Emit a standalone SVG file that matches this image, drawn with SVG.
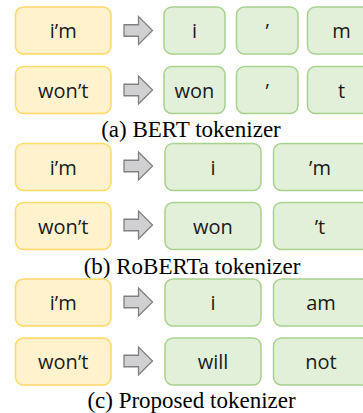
<svg xmlns="http://www.w3.org/2000/svg" xmlns:xlink="http://www.w3.org/1999/xlink" width="363" height="413" viewBox="0 0 363 413">
<style>
.src{fill:#fff2cc;stroke:#ffd966;stroke-width:1.5}
.tok{fill:#e2f0d9;stroke:#a9d18e;stroke-width:1.5}
.t{font-family:"Open Sans","Noto Sans",sans-serif;font-size:20px;fill:#1a1a1a;text-anchor:middle}
.cap{font-family:"Liberation Serif","Times New Roman",serif;font-size:23px;fill:#000;text-anchor:middle}
.arr{fill:#d0cfd1;stroke:#808080;stroke-width:1.3;stroke-linejoin:miter}
</style>
<defs>
<path id="arrow" d="M124,-5.75 H138.5 V-14 L152.5,0 L138.5,14 V5.75 H124 Z"/>
</defs>
<rect width="363" height="413" fill="#fff"/>

<!-- (a) BERT -->
<g id="a-src1"><rect class="src" x="15.5" y="7" width="95.5" height="47" rx="8"/><text class="t" x="63.25" y="38">i’m</text></g>
<g id="a-src2"><rect class="src" x="15.5" y="66.5" width="95.5" height="47" rx="8"/><text class="t" x="63.25" y="97.5">won’t</text></g>
<g id="a-t1"><rect class="tok" x="164" y="7" width="61" height="47" rx="8"/><text class="t" x="194.5" y="38">i</text></g>
<g id="a-t2"><rect class="tok" x="236.5" y="7" width="61.5" height="47" rx="8"/><text class="t" x="267.25" y="38">’</text></g>
<g id="a-t3"><rect class="tok" x="307.5" y="7" width="68" height="47" rx="8"/><text class="t" x="341.5" y="38">m</text></g>
<g id="a-t4"><rect class="tok" x="164" y="66.5" width="61" height="47" rx="8"/><text class="t" x="194.5" y="97.5">won</text></g>
<g id="a-t5"><rect class="tok" x="236.5" y="66.5" width="61.5" height="47" rx="8"/><text class="t" x="267.25" y="97.5">’</text></g>
<g id="a-t6"><rect class="tok" x="307.5" y="66.5" width="68" height="47" rx="8"/><text class="t" x="341.5" y="97.5">t</text></g>
<text class="cap" x="191" y="137">(a) BERT tokenizer</text>

<!-- (b) RoBERTa -->
<g id="b-src1"><rect class="src" x="15.5" y="143.5" width="95.5" height="47" rx="8"/><text class="t" x="63.25" y="174.5">i’m</text></g>
<g id="b-src2"><rect class="src" x="15.5" y="202.5" width="95.5" height="47" rx="8"/><text class="t" x="63.25" y="233.5">won’t</text></g>
<g id="b-t1"><rect class="tok" x="165" y="143.5" width="96" height="47" rx="8"/><text class="t" x="213" y="174.5">i</text></g>
<g id="b-t2"><rect class="tok" x="273.5" y="143.5" width="96" height="47" rx="8"/><text class="t" x="320" y="174.5">’m</text></g>
<g id="b-t3"><rect class="tok" x="165" y="202.5" width="96" height="47" rx="8"/><text class="t" x="213" y="233.5">won</text></g>
<g id="b-t4"><rect class="tok" x="273.5" y="202.5" width="96" height="47" rx="8"/><text class="t" x="320" y="233.5">’t</text></g>
<text class="cap" x="192" y="274">(b) RoBERTa tokenizer</text>

<!-- (c) Proposed -->
<g id="c-src1"><rect class="src" x="15.5" y="279" width="95.5" height="47" rx="8"/><text class="t" x="63.25" y="310">i’m</text></g>
<g id="c-src2"><rect class="src" x="15.5" y="338" width="95.5" height="47" rx="8"/><text class="t" x="63.25" y="369">won’t</text></g>
<g id="c-t1"><rect class="tok" x="165" y="279" width="96" height="47" rx="8"/><text class="t" x="213" y="310">i</text></g>
<g id="c-t2"><rect class="tok" x="273.5" y="279" width="96" height="47" rx="8"/><text class="t" x="321" y="310">am</text></g>
<g id="c-t3"><rect class="tok" x="165" y="338" width="96" height="47" rx="8"/><text class="t" x="213" y="369">will</text></g>
<g id="c-t4"><rect class="tok" x="273.5" y="338" width="96" height="47" rx="8"/><text class="t" x="321" y="369">not</text></g>
<text class="cap" x="191.5" y="407.5">(c) Proposed tokenizer</text>

<g id="connectors">
<use xlink:href="#arrow" class="arr" y="30.5"/>
<use xlink:href="#arrow" class="arr" y="90"/>
<use xlink:href="#arrow" class="arr" y="166"/>
<use xlink:href="#arrow" class="arr" y="225"/>
<use xlink:href="#arrow" class="arr" y="302"/>
<use xlink:href="#arrow" class="arr" y="361"/>
</g>
</svg>
